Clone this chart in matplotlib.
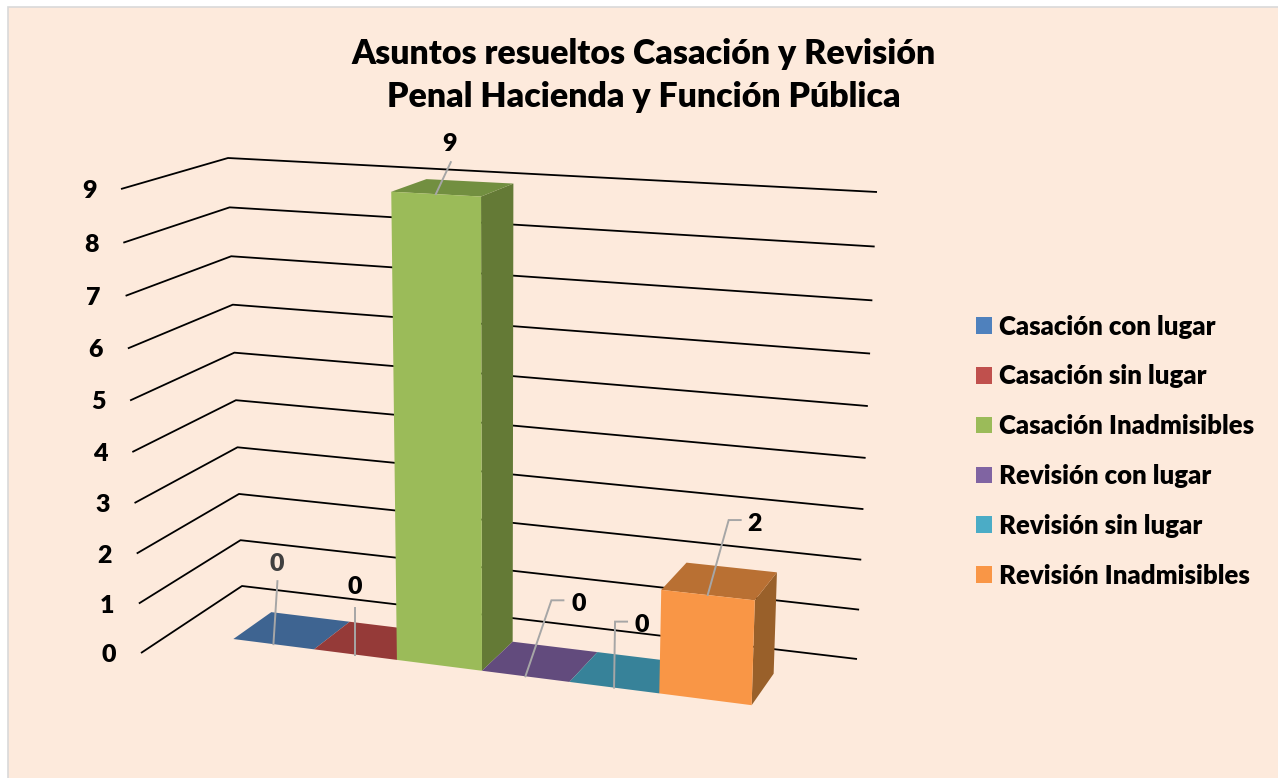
import numpy as np
import matplotlib
matplotlib.use('Agg')
import matplotlib.pyplot as plt
from matplotlib.patches import Polygon, Rectangle

# ── Data ───────────────────────────────────────────────────────────────────────
title = 'Asuntos resueltos Casación y Revisión\nPenal Hacienda y Función Pública'
categories = ['Casación con lugar', 'Casación sin lugar', 'Casación Inadmisibles',
              'Revisión con lugar', 'Revisión sin lugar', 'Revisión Inadmisibles']
values = [0, 0, 9, 0, 0, 2]
z_ticks = list(range(10))

# ── Styles ─────────────────────────────────────────────────────────────────────
BG = '#FDEADC'
front_colors = ['#4F81BD', '#C0504D', '#9BBB59', '#8064A2', '#4BACC6', '#F99646']
top_colors = ['#3E6491', '#953A38', '#728F40', '#624B7D', '#378299', '#B97033']
side_colors = ['#325074', '#772E2C', '#647A36', '#4E3C64', '#2C687A', '#99602A']
label_colors = ['#404040', 'black', 'black', 'black', 'black', 'black']
FONT = 'Lato'
WEIGHT = 'heavy'

# leader line from bar to label, pixels relative to the bar's front-top centre
leader_bend = [None, None, None, (26, -76), (1, -66), (21, -75)]
leader_end = [(4, -63), (0, -47), (15, -32), (38, -76), (13, -66), (33, -75)]
label_offset = [(3, -80), (0, -68), (14, -50), (53, -72), (28, -63), (47, -71)]

# ── Projection, fitted on points ──────────────────────────────────────────────
bar_world = [(0, 0, 0), (0, 1, 0), (1, 0, 0), (1, 1, 0), (2, 0, 0), (3, 0, 0), (3, 1, 0),
             (3, 1, 9), (3, 0, 9), (2, 0, 9), (2, 1, 9), (4, 0, 0), (4, 1, 0), (5, 0, 0),
             (5, 0, 2), (6, 0, 0), (6, 0, 2), (6, 1, 2), (6, 1, 0), (5, 1, 2)]
bar_pix = [(233, 639), (272, 612), (314, 649), (349, 622), (397, 660), (482, 671), (513, 642),
           (513, 183), (481, 197), (391, 192), (427, 179), (570, 682), (597, 652), (659, 693),
           (661, 589), (752, 706), (755, 600), (777, 573), (773, 673), (687, 563)]
left_wall_world = [(0, 0), (0, 9), (1, 0), (1, 9)]
left_wall_pix = [(141, 653), (121, 189), (242, 586), (228, 158)]
back_wall_world = [(0, 0), (0, 9), (1, 0), (1, 9)]
back_wall_pix = [(242, 586), (228, 158), (857, 659), (877, 192)]


def fit_projective(world, pix):
    rows = []
    for w, (u, v) in zip(world, pix):
        X = list(w) + [1.0]
        zero = [0.0] * len(X)
        rows.append(X + zero + [-u / 1000 * c for c in X])
        rows.append(zero + X + [-v / 1000 * c for c in X])
    _, _, vt = np.linalg.svd(np.array(rows))
    return vt[-1].reshape(3, len(world[0]) + 1)


def project(M, *w):
    p = M @ np.array(list(w) + [1.0])
    return p[:2] / p[2] * 1000


cam = fit_projective(bar_world, bar_pix)
left_wall = fit_projective(left_wall_world, left_wall_pix)
back_wall = fit_projective(back_wall_world, back_wall_pix)

# ── Figure ─────────────────────────────────────────────────────────────────────
fig = plt.figure(figsize=(12.78, 7.78), dpi=100, facecolor='white')
ax = fig.add_axes([0, 0, 1, 1])
ax.set_xlim(0, 1278)
ax.set_ylim(778, 0)
ax.axis('off')

ax.add_patch(Rectangle((7.5, 6.5), 1300, 800, facecolor=BG, edgecolor='#D9D9D9', lw=1.2, zorder=0))

ax.text(644, 75.5, title, ha='center', va='center', fontsize=24.4, fontweight=WEIGHT,
        family=FONT, color='black', linespacing=1.42)

# gridlines and axis labels
for z in z_ticks:
    pts = np.array([project(left_wall, 0, z), project(left_wall, 1, z), project(back_wall, 1, z)])
    ax.plot(pts[:, 0], pts[:, 1], color='black', lw=1.3, solid_capstyle='butt', zorder=1)
    ax.text(pts[0, 0] - 32, pts[0, 1] + 2, str(z), ha='center', va='center', fontsize=18,
            fontweight=WEIGHT, family=FONT, color='black')

# bars, left to right so later ones cover earlier ones
for i, val in enumerate(values):
    if val > 0:
        side = [project(cam, i + 1, 0, 0), project(cam, i + 1, 1, 0),
                project(cam, i + 1, 1, val), project(cam, i + 1, 0, val)]
        ax.add_patch(Polygon(side, closed=True, fc=side_colors[i], ec='none', zorder=2 + i * 0.1))
        front = [project(cam, i, 0, 0), project(cam, i + 1, 0, 0),
                 project(cam, i + 1, 0, val), project(cam, i, 0, val)]
        ax.add_patch(Polygon(front, closed=True, fc=front_colors[i], ec='none', zorder=2.02 + i * 0.1))
    top = [project(cam, i, 0, val), project(cam, i + 1, 0, val),
           project(cam, i + 1, 1, val), project(cam, i, 1, val)]
    ax.add_patch(Polygon(top, closed=True, fc=top_colors[i], ec='none', zorder=2.01 + i * 0.1))

# data labels with leader lines
for i, val in enumerate(values):
    x0, y0 = project(cam, i + 0.5, 0, val)
    lx, ly = [x0], [y0]
    if leader_bend[i] is not None:
        lx.append(x0 + leader_bend[i][0])
        ly.append(y0 + leader_bend[i][1])
    lx.append(x0 + leader_end[i][0])
    ly.append(y0 + leader_end[i][1])
    ax.plot(lx, ly, color='#A6A6A6', lw=1.4, solid_joinstyle='miter', zorder=4)
    ax.text(x0 + label_offset[i][0], y0 + label_offset[i][1], str(val), ha='center', va='center',
            fontsize=18, fontweight=WEIGHT, family=FONT, color=label_colors[i], zorder=5)

# legend
handles = [Rectangle((0, 0), 1, 1, fc=c, ec='none') for c in front_colors]
ax.legend(handles, categories, loc='upper left', bbox_to_anchor=(976, 314.5),
          bbox_transform=ax.transData, frameon=False, borderpad=0, borderaxespad=0,
          handlelength=0.62, handleheight=0.62, handletextpad=0.27, labelspacing=1.005,
          prop={'family': FONT, 'weight': WEIGHT, 'size': 18.5})

fig.savefig('out.png', dpi=100, facecolor='white')
